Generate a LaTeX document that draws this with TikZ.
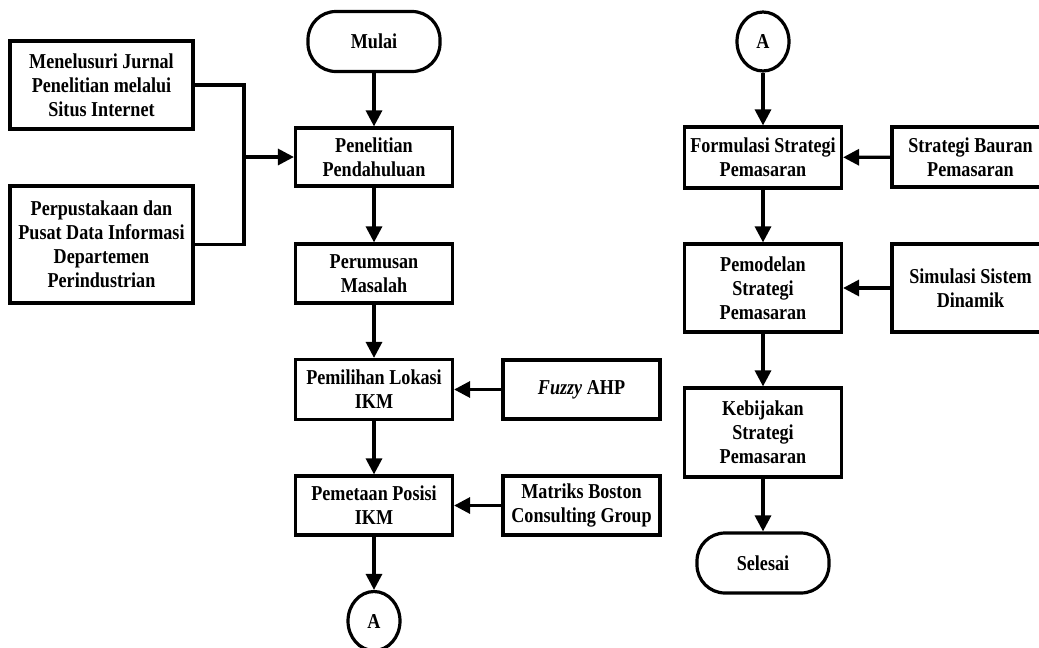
\documentclass[tikz,border=0pt]{standalone}
\usepackage{fontspec}
\setmainfont[FakeStretch=0.855]{Liberation Serif}
\usetikzlibrary{arrows.meta,shapes.geometric,calc}

\begin{document}
\begin{tikzpicture}[
  x=1pt, y=-1pt,
  font=\fontsize{21.2}{24}\selectfont\bfseries,
  box/.style={draw, line width=3.2pt, align=center, inner sep=2pt, minimum width=157pt},
  term/.style={box, rounded corners=28pt, minimum width=132pt, minimum height=60pt},
  conn/.style={draw, ellipse, line width=3.2pt, inner sep=0pt, minimum width=52pt, minimum height=59pt},
  arrow/.style={-{Triangle[length=16pt,width=16pt]}, line width=3.2pt},
  joinline/.style={line width=3.2pt}
]
\clip (0,0) rectangle (1039,648);
\node[box, minimum width=183pt, minimum height=88pt]  (src1) at (101.5,85)
  {Menelusuri Jurnal\\Penelitian melalui\\Situs Internet};
\node[box, minimum width=183pt, minimum height=117pt] (src2) at (101.5,244.5)
  {Perpustakaan dan\\Pusat Data Informasi\\Departemen\\Perindustrian};
\node[term] (mulai) at (374,41.5) {Mulai};
\node[box, minimum height=58pt] (pen) at (374,157)   {Penelitian\\Pendahuluan};
\node[box, minimum height=59pt] (rum) at (374,273.5) {Perumusan\\Masalah};
\node[box, minimum height=60pt] (lok) at (374,389.5) {Pemilihan Lokasi\\IKM};
\node[box, minimum height=59pt] (pos) at (374,505.5) {Pemetaan Posisi\\IKM};
\node[conn] (ka) at (374,621) {A};
\node[box, minimum height=59pt] (fahp) at (581.5,389.5) {\textit{Fuzzy} AHP};
\node[box, minimum height=59pt] (bcg)  at (581.5,505.5) {Matriks Boston\\Consulting Group};
\node[conn] (kb) at (763,41.5) {A};
\node[box, minimum height=61pt] (form)  at (763,157.5) {Formulasi Strategi\\Pemasaran};
\node[box, minimum height=60pt] (baur)  at (970.5,157) {Strategi Bauran\\Pemasaran};
\node[box, minimum height=88pt] (model) at (763,288)   {Pemodelan\\Strategi\\Pemasaran};
\node[box, minimum height=88pt] (sim)   at (970.5,288) {Simulasi Sistem\\Dinamik};
\node[box, minimum height=89pt] (bijak) at (763,432.5) {Kebijakan\\Strategi\\Pemasaran};
\node[term] (selesai) at (763,563) {Selesai};
\coordinate (jn) at ($(pen.west)+(-50,0)$);
\draw[joinline] (src1.east) -| (jn);
\draw[joinline] (src2.east) -| (jn);
\draw[arrow] (jn) -- (pen.west);
\draw[arrow] (mulai) -- (pen);
\draw[arrow] (pen) -- (rum);
\draw[arrow] (rum) -- (lok);
\draw[arrow] (lok) -- (pos);
\draw[arrow] (pos) -- (ka);
\draw[arrow] (fahp) -- (lok);
\draw[arrow] (bcg) -- (pos);
\draw[arrow] (kb) -- (form);
\draw[arrow] (form) -- (model);
\draw[arrow] (model) -- (bijak);
\draw[arrow] (bijak) -- (selesai);
\draw[arrow] (baur) -- (form);
\draw[arrow] (sim) -- (model);
\end{tikzpicture}
\end{document}
